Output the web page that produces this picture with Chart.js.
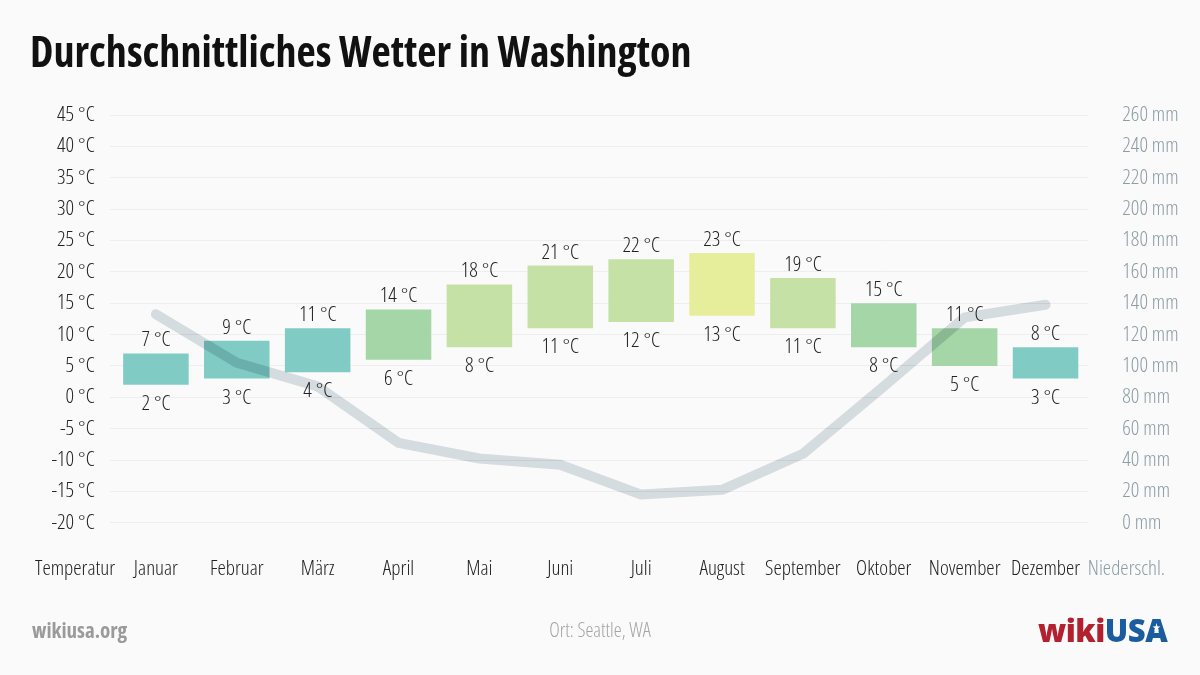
<!DOCTYPE html>
<html>
<head>
<meta charset="utf-8">
<script src="https://cdn.jsdelivr.net/npm/chart.js@4"></script>
<style>
  body { margin: 0; background: #fafafa; }
  #wrap { position: absolute; left: 0; top: 0; width: 1200px; height: 675px; }
  .txt { position: absolute; white-space: nowrap; font-family: 'Open Sans', sans-serif; }
  #title { left: 30px; top: 30px; font-size: 42px; line-height: 42px; font-weight: 700; font-stretch: 75%; color: #111; }
  #site { left: 32px; top: 620px; font-size: 21px; line-height: 21px; font-weight: 700; font-stretch: 87.5%; color: #9a9a9a; }
  #place { left: 0; width: 1200px; text-align: center; top: 620px; font-size: 20px; line-height: 20px; font-weight: 300; font-stretch: 75%; color: #a5a5a5; }
  #logo { left: 1038px; top: 615px; font-size: 31px; line-height: 31px; font-weight: 800; color: #b3202e; letter-spacing: -0.5px; }
  #logo span { color: #1b5c9e; }
  #star { left: 1152px; top: 622px; font-size: 10px; line-height: 10px; color: #fff; }
</style>
</head>
<body>
<div id="wrap"><canvas id="myChart"></canvas></div>
<div class="txt" id="title">Durchschnittliches Wetter in Washington</div>
<div class="txt" id="site">wikiusa.org</div>
<div class="txt" id="place">Ort: Seattle, WA</div>
<div class="txt" id="logo">wiki<span>USA</span></div>
<div class="txt" id="star">★</div>
<script>
const months = ['Januar', 'Februar', 'März', 'April', 'Mai', 'Juni', 'Juli', 'August', 'September', 'Oktober', 'November', 'Dezember'];
const tempMin = [2, 3, 4, 6, 8, 11, 12, 13, 11, 8, 5, 3];
const tempMax = [7, 9, 11, 14, 18, 21, 22, 23, 19, 15, 11, 8];
const precip = [133, 102, 87, 51, 41, 37, 18, 21, 44, 87, 131, 139];

const tempTicks = [-20, -15, -10, -5, 0, 5, 10, 15, 20, 25, 30, 35, 40, 45];
const rainTicks = [0, 20, 40, 60, 80, 100, 120, 140, 160, 180, 200, 220, 240, 260];

const leftTitle = 'Temperatur';
const rightTitle = 'Niederschl.';

const FONT = "'Open Sans', sans-serif";
const LABEL_FONT = "normal 300 condensed 21px " + FONT;
const DARK = '#222222';
const BLUEGRAY = '#8b9da5';

// bar colour from the monthly mean temperature
function tempColor(lo, hi) {
  const mean = (lo + hi) / 2;
  if (mean < 8) return '#80cbc4';
  if (mean < 13) return '#a5d6a7';
  if (mean < 18) return '#c5e1a5';
  return '#e6ee9c';
}

const labels = [leftTitle, ...months, rightTitle];
const bars = [null, ...months.map((m, i) => [tempMin[i], tempMax[i]]), null];
const barColors = [null, ...months.map((m, i) => tempColor(tempMin[i], tempMax[i])), null];
const rain = [null, ...precip, null];

const fmtTemp = (v) => v + ' °C';
const fmtRain = (v) => v + ' mm';

// widest tick label, so mirrored labels can be right/left aligned at a fixed column
const measure = document.createElement('canvas').getContext('2d');
measure.font = LABEL_FONT;
const widest = (vals, fmt) => Math.max(...vals.map((v) => measure.measureText(fmt(v)).width));
const tempWidest = widest(tempTicks, fmtTemp);
const rainWidest = widest(rainTicks, fmtRain);

// faint grid lines only between the tick label columns
function gridColor(c) {
  const chart = c.chart;
  const g = chart.ctx.createLinearGradient(0, 0, chart.width, 0);
  const a = 110 / chart.width, b = 1088 / chart.width;
  g.addColorStop(0, 'rgba(0,0,0,0)');
  g.addColorStop(a, 'rgba(0,0,0,0)');
  g.addColorStop(a, '#eeeeee');
  g.addColorStop(b, '#eeeeee');
  g.addColorStop(b, 'rgba(0,0,0,0)');
  g.addColorStop(1, 'rgba(0,0,0,0)');
  return g;
}

const valueLabels = {
  id: 'valueLabels',
  afterDatasetsDraw(chart) {
    const meta = chart.getDatasetMeta(1);
    const ctx = chart.ctx;
    ctx.save();
    ctx.font = LABEL_FONT;
    ctx.fillStyle = DARK;
    ctx.textAlign = 'center';
    ctx.textBaseline = 'alphabetic';
    meta.data.forEach((bar, i) => {
      const v = bars[i];
      if (!v) return;
      const top = Math.min(bar.y, bar.base);
      const bottom = Math.max(bar.y, bar.base);
      ctx.fillText(fmtTemp(v[1]), bar.x, top - 7);
      ctx.fillText(fmtTemp(v[0]), bar.x, bottom + 25);
    });
    ctx.restore();
  }
};

// rain line is multiplied over the bars
const multiplyLine = {
  id: 'multiplyLine',
  beforeDatasetDraw(chart, args) {
    if (args.index === 0) {
      chart.ctx.save();
      chart.ctx.globalCompositeOperation = 'multiply';
    }
  },
  afterDatasetDraw(chart, args) {
    if (args.index === 0) chart.ctx.restore();
  }
};

const tickFont = { family: FONT, size: 21, weight: '300 condensed' };
const noWidth = (s) => { s.width = 0; };

new Chart(document.getElementById('myChart'), {
  data: {
    labels: labels,
    datasets: [
      {
        type: 'line',
        label: 'Niederschlag',
        data: rain,
        yAxisID: 'y2',
        borderColor: '#d5dce0',
        borderWidth: 10,
        borderCapStyle: 'round',
        borderJoinStyle: 'round',
        pointRadius: 0,
        tension: 0,
        order: 0
      },
      {
        type: 'bar',
        label: 'Temperatur',
        data: bars,
        yAxisID: 'y',
        backgroundColor: barColors,
        borderWidth: 0,
        borderSkipped: false,
        categoryPercentage: 1,
        barPercentage: 0.81,
        order: 1
      }
    ]
  },
  options: {
    responsive: true,
    maintainAspectRatio: false,
    animation: false,
    layout: { padding: { top: 115, left: 31, right: 31, bottom: 59 } },
    plugins: {
      legend: { display: false },
      tooltip: { enabled: false },
      title: { display: false }
    },
    scales: {
      x: {
        grid: { display: false, drawTicks: false },
        border: { display: false },
        ticks: {
          autoSkip: false,
          maxRotation: 0,
          padding: 34,
          font: tickFont,
          color: (c) => c.index === labels.length - 1 ? BLUEGRAY : DARK
        }
      },
      y: {
        position: 'left',
        min: -20,
        max: 45,
        afterFit: noWidth,
        grid: { color: gridColor, drawTicks: false },
        border: { display: false },
        ticks: {
          stepSize: 5,
          autoSkip: false,
          mirror: true,
          crossAlign: 'far',
          padding: 60 - tempWidest,
          font: tickFont,
          color: DARK,
          callback: fmtTemp
        }
      },
      y2: {
        position: 'right',
        min: 0,
        max: 260,
        afterFit: noWidth,
        grid: { drawOnChartArea: false, drawTicks: false },
        border: { display: false },
        ticks: {
          stepSize: 20,
          autoSkip: false,
          mirror: true,
          crossAlign: 'far',
          padding: 68 - rainWidest,
          font: tickFont,
          color: BLUEGRAY,
          callback: fmtRain
        }
      }
    }
  },
  plugins: [valueLabels, multiplyLine]
});
</script>
</body>
</html>
